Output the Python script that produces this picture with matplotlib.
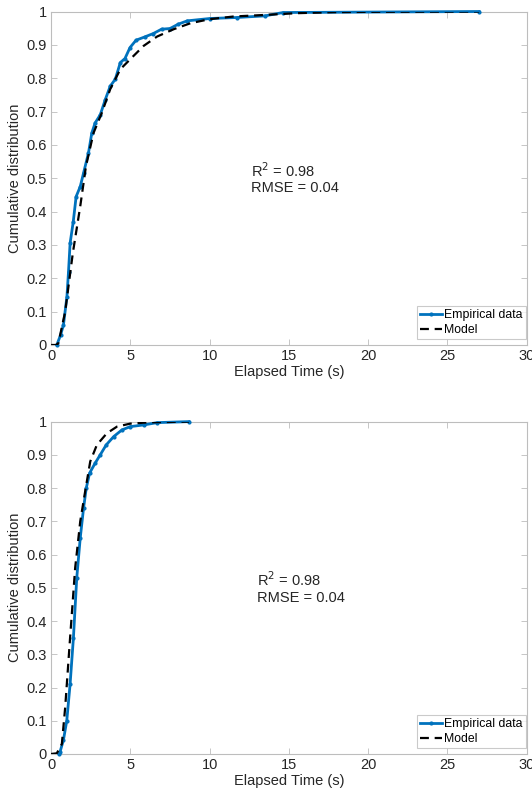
import matplotlib
matplotlib.use('Agg')
import matplotlib.pyplot as plt
import numpy as np

plt.rcParams['font.family'] = ['Liberation Sans', 'DejaVu Sans']

# Top panel: empirical CDF and model
emp1_x = [0.36, 0.6, 0.78, 1.0, 1.1, 1.2, 1.4, 1.58, 1.84, 2.05, 2.36, 2.57, 2.78, 3.1,
          3.42, 3.73, 4.05, 4.37, 4.66, 4.98, 5.36, 5.92, 6.45, 6.97, 7.5, 8.02, 8.59,
          10.0, 11.7, 13.5, 14.64, 27.0]
emp1_y = [0.0, 0.03, 0.06, 0.145, 0.22, 0.305, 0.37, 0.445, 0.475, 0.516, 0.576, 0.636,
          0.666, 0.69, 0.736, 0.776, 0.797, 0.847, 0.859, 0.892, 0.914, 0.924, 0.934, 0.947,
          0.949, 0.962, 0.972, 0.979, 0.982, 0.987, 0.997, 1.0]
mod1_x = [0.0, 0.3, 0.46, 0.89, 1.37, 1.84, 2.2, 2.68, 3.2, 3.73, 4.37, 5.1, 5.84, 6.69,
          7.74, 8.8, 10.0, 11.5, 13.6, 15.5, 17.8, 20.0, 27.0]
mod1_y = [0.0, 0.0, 0.005, 0.1, 0.275, 0.416, 0.536, 0.636, 0.696, 0.767, 0.827, 0.862,
          0.897, 0.925, 0.947, 0.965, 0.977, 0.985, 0.99, 0.995, 0.998, 0.999, 1.0]

# Bottom panel
emp2_x = [0.5, 0.57, 0.78, 0.99, 1.2, 1.41, 1.62, 1.84, 2.05, 2.22, 2.43, 2.78, 3.1,
          3.48, 3.95, 4.47, 5.0, 5.84, 6.7, 8.7]
emp2_y = [0.0, 0.007, 0.042, 0.10, 0.21, 0.35, 0.53, 0.65, 0.74, 0.80, 0.845, 0.875,
          0.90, 0.93, 0.955, 0.975, 0.985, 0.99, 0.997, 1.0]
mod2_x = [0.0, 0.36, 0.68, 0.89, 1.2, 1.52, 1.84, 2.15, 2.47, 2.89, 3.52, 4.16, 5.0, 6.27, 8.7]
mod2_y = [0.0, 0.002, 0.03, 0.14, 0.35, 0.56, 0.70, 0.79, 0.88, 0.93, 0.965, 0.985, 0.994,
          0.998, 1.0]

panels = [(emp1_x, emp1_y, mod1_x, mod1_y), (emp2_x, emp2_y, mod2_x, mod2_y)]
stats_txt = ["R$^2$ = 0.98\nRMSE = 0.04", "R$^2$ = 0.98\nRMSE = 0.04"]
text_pos = [(12.6, 0.50), (13.0, 0.50)]

fig = plt.figure(figsize=(5.32, 7.94), dpi=100)
rects = [[0.096, 0.5655, 0.894, 0.42], [0.096, 0.0504, 0.894, 0.4186]]

tc = '#262626'
fs = 10.5
for i, (ex, ey, mx, my) in enumerate(panels):
    ax = fig.add_axes(rects[i])
    ax.plot(ex, ey, '-', color='#0072BD', lw=2, marker='.', ms=4, label='Empirical data',
            clip_on=False, zorder=3)
    ax.plot(mx, my, '--', color='k', lw=1.6, dashes=(4, 2.6), label='Model', zorder=3)
    ax.set_xlim(0, 30)
    ax.set_ylim(0, 1)
    ax.set_xticks(np.arange(0, 31, 5))
    ax.set_yticks(np.arange(0, 1.01, 0.1))
    ax.set_yticklabels(['0', '0.1', '0.2', '0.3', '0.4', '0.5', '0.6', '0.7', '0.8', '0.9', '1'])
    ax.tick_params(direction='in', top=True, right=True, length=4, width=0.6, pad=3,
                   colors='#bdbdbd', labelcolor=tc, labelsize=fs)
    for s in ax.spines.values():
        s.set_color('#bdbdbd')
        s.set_linewidth(0.8)
    ax.set_xlabel('Elapsed Time (s)', fontsize=fs, color=tc, labelpad=1)
    ax.set_ylabel('Cumulative distribution', fontsize=fs, color=tc, labelpad=3)
    ax.text(text_pos[i][0], text_pos[i][1], stats_txt[i], fontsize=fs, color=tc,
            ha='left', va='center', linespacing=1.15)
    leg = ax.legend(loc='lower right', bbox_to_anchor=(0.998, 0.018), fontsize=8.8,
                    frameon=True, fancybox=False, borderaxespad=0.0, handlelength=1.8,
                    handletextpad=0.2, borderpad=0.25, labelspacing=0.2)
    leg.get_frame().set_edgecolor('#bdbdbd')
    leg.get_frame().set_linewidth(0.8)

fig.savefig('out.png', dpi=100)
